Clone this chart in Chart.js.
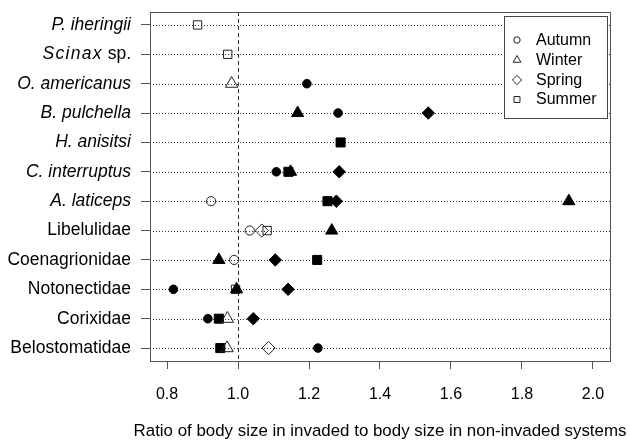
<!DOCTYPE html>
<html>
<head>
<meta charset="utf-8">
<script src="https://cdn.jsdelivr.net/npm/chart.js@4/dist/chart.umd.min.js"></script>
<style>
  html, body { margin: 0; padding: 0; background: #fff; }
  #wrap { width: 630px; height: 444px; }
</style>
</head>
<body>
<div id="wrap"><canvas id="c" width="630" height="444"></canvas></div>
<script>
// Taxa, listed top to bottom
const categories = ['P. iheringii', 'Scinax sp.', 'O. americanus', 'B. pulchella', 'H. anisitsi',
  'C. interruptus', 'A. laticeps', 'Libelulidae', 'Coenagrionidae', 'Notonectidae', 'Corixidae', 'Belostomatidae'];
const italicLabel = [true, true, true, true, true, true, true, false, false, false, false, false];

// Body-size ratio per season (null = not sampled); *Filled = significant difference
const autumn       = [null, null, 1.194, 1.282, null, 1.108, 0.924, 1.033, 0.989, 0.818, 0.915, 1.225];
const autumnFilled = [0, 0, 1, 1, 0, 1, 0, 0, 0, 1, 1, 1];
const winter       = [null, null, 0.982, 1.168, null, 1.148, 1.932, 1.264, 0.946, 0.996, 0.970, 0.969];
const winterFilled = [0, 0, 0, 1, 0, 1, 1, 1, 1, 1, 0, 0];
const spring       = [null, null, null, 1.536, null, 1.285, 1.277, 1.067, 1.105, 1.141, 1.043, 1.086];
const springFilled = [0, 0, 0, 1, 0, 1, 1, 0, 1, 1, 1, 0];
const summer       = [0.886, 0.971, null, null, 1.289, 1.142, 1.252, 1.082, 1.223, 0.993, 0.946, 0.950];
const summerFilled = [0, 0, 0, 0, 1, 1, 1, 0, 1, 0, 1, 1];

const seasons = ['Autumn', 'Winter', 'Spring', 'Summer'];
const xTicks = [0.8, 1.0, 1.2, 1.4, 1.6, 1.8, 2.0];
const referenceRatio = 1.0;
const xTitle = 'Ratio of body size in invaded to body size in non-invaded systems';

const FONT = "'Liberation Sans', Arial, Helvetica, sans-serif";
const LABEL_SIZE = 17.5;
const TITLE_SIZE = 16.9;
const rows = categories.length;

function series(label, vals, filled, style, rFilled, rOpen) {
  const data = [], bg = [], bc = [], rad = [];
  vals.forEach((v, i) => {
    if (v === null) return;
    data.push({ x: v, y: rows - i });
    bg.push(filled[i] ? '#000' : 'rgba(0,0,0,0)');
    bc.push(filled[i] ? '#000' : '#222');
    rad.push(filled[i] ? rFilled : rOpen);
  });
  return {
    label, data, showLine: false, pointStyle: style,
    pointBackgroundColor: bg, pointBorderColor: bc, pointRadius: rad,
    pointHoverRadius: rad, pointBorderWidth: 1
  };
}

// Dotted row guides, dashed reference line, plot frame, labels and legend
const framePlugin = {
  id: 'frame',
  beforeDatasetsDraw(chart) {
    const { ctx, chartArea: a, scales: { x, y } } = chart;
    ctx.save();
    ctx.strokeStyle = '#333';
    ctx.lineWidth = 1;
    ctx.setLineDash([1, 2]);
    for (let k = 1; k <= rows; k++) {
      const py = Math.round(y.getPixelForValue(k)) + 0.5;
      ctx.beginPath(); ctx.moveTo(a.left, py); ctx.lineTo(a.right, py); ctx.stroke();
    }
    ctx.setLineDash([4, 3]);
    const px = Math.round(x.getPixelForValue(referenceRatio)) + 0.5;
    ctx.beginPath(); ctx.moveTo(px, a.top); ctx.lineTo(px, a.bottom); ctx.stroke();
    ctx.setLineDash([]);
    ctx.strokeStyle = '#555';
    ctx.strokeRect(Math.round(a.left) + 0.5, Math.round(a.top) + 0.5,
      Math.round(a.right - a.left), Math.round(a.bottom - a.top));
    ctx.restore();
  },
  afterDraw(chart) {
    const { ctx, chartArea: a, scales: { y } } = chart;
    ctx.save();
    // taxon labels
    ctx.fillStyle = '#000';
    ctx.textBaseline = 'middle';
    ctx.textAlign = 'right';
    categories.forEach((name, i) => {
      const py = y.getPixelForValue(rows - i);
      const rx = 131;
      if (name === 'Scinax sp.') {
        ctx.font = `${LABEL_SIZE}px ${FONT}`;
        const tail = ' sp.';
        ctx.fillText(tail, rx, py);
        const w = ctx.measureText(tail).width;
        ctx.font = `italic ${LABEL_SIZE}px ${FONT}`;
        ctx.letterSpacing = '1.3px';
        ctx.fillText('Scinax', rx - w, py);
        ctx.letterSpacing = '0px';
      } else {
        ctx.font = `${italicLabel[i] ? 'italic ' : ''}${LABEL_SIZE}px ${FONT}`;
        ctx.fillText(name, rx, py);
      }
    });
    // x-axis title
    ctx.textAlign = 'center';
    ctx.textBaseline = 'alphabetic';
    ctx.font = `${TITLE_SIZE}px ${FONT}`;
    ctx.fillText(xTitle, (a.left + a.right) / 2, 436);
    // legend
    const box = { l: 504, t: 16, r: 607, b: 118 };
    ctx.fillStyle = '#fff';
    ctx.fillRect(box.l, box.t, box.r - box.l, box.b - box.t);
    ctx.strokeStyle = '#444';
    ctx.lineWidth = 1;
    ctx.strokeRect(box.l + 0.5, box.t + 0.5, box.r - box.l, box.b - box.t);
    const styles = ['circle', 'triangle', 'rectRot', 'rect'];
    const radii = [3.2, 4.5, 4.6, 4.2];
    const rowsY = [40, 60, 80, 99.5];
    ctx.font = `16px ${FONT}`;
    ctx.textAlign = 'left';
    ctx.textBaseline = 'middle';
    seasons.forEach((s, k) => {
      ctx.strokeStyle = '#222';
      ctx.fillStyle = 'rgba(0,0,0,0)';
      ctx.lineWidth = 1;
      Chart.helpers.drawPoint(ctx, { pointStyle: styles[k], radius: radii[k], rotation: 0, borderWidth: 1 }, 517, rowsY[k]);
      ctx.fillStyle = '#000';
      ctx.fillText(s, 536, rowsY[k] + 0.5);
    });
    ctx.restore();
  }
};

new Chart(document.getElementById('c'), {
  type: 'scatter',
  data: {
    datasets: [
      series('Autumn', autumn, autumnFilled, 'circle', 4.3, 4.6),
      series('Winter', winter, winterFilled, 'triangle', 7.0, 7.2),
      series('Spring', spring, springFilled, 'rectRot', 6.2, 6.6),
      series('Summer', summer, summerFilled, 'rect', 6.4, 5.9)
    ]
  },
  options: {
    responsive: false,
    animation: false,
    devicePixelRatio: 1,
    layout: { padding: { top: 12, right: 20, left: 0, bottom: 0 } },
    plugins: { legend: { display: false }, tooltip: { enabled: false } },
    scales: {
      x: {
        type: 'linear', min: 0.752, max: 2.048,
        afterBuildTicks: s => { s.ticks = xTicks.map(v => ({ value: v })); },
        afterFit: s => { s.height = 83; },
        ticks: {
          autoSkip: false, maxRotation: 0, padding: 16, color: '#000',
          font: { family: FONT, size: 16 },
          callback: v => Number(v).toFixed(1)
        },
        grid: { display: true, drawOnChartArea: false, drawTicks: true, tickLength: 8, tickColor: '#555', tickWidth: 1 },
        border: { display: false },
        title: { display: false }
      },
      y: {
        type: 'linear', min: 0.56, max: rows + 0.44,
        afterBuildTicks: s => { s.ticks = categories.map((_, i) => ({ value: rows - i })); },
        afterFit: s => { s.width = 150; },
        ticks: { display: false },
        grid: { display: true, drawOnChartArea: false, drawTicks: true, tickLength: 9, tickColor: '#555', tickWidth: 1 },
        border: { display: false }
      }
    }
  },
  plugins: [framePlugin]
});
</script>
</body>
</html>
